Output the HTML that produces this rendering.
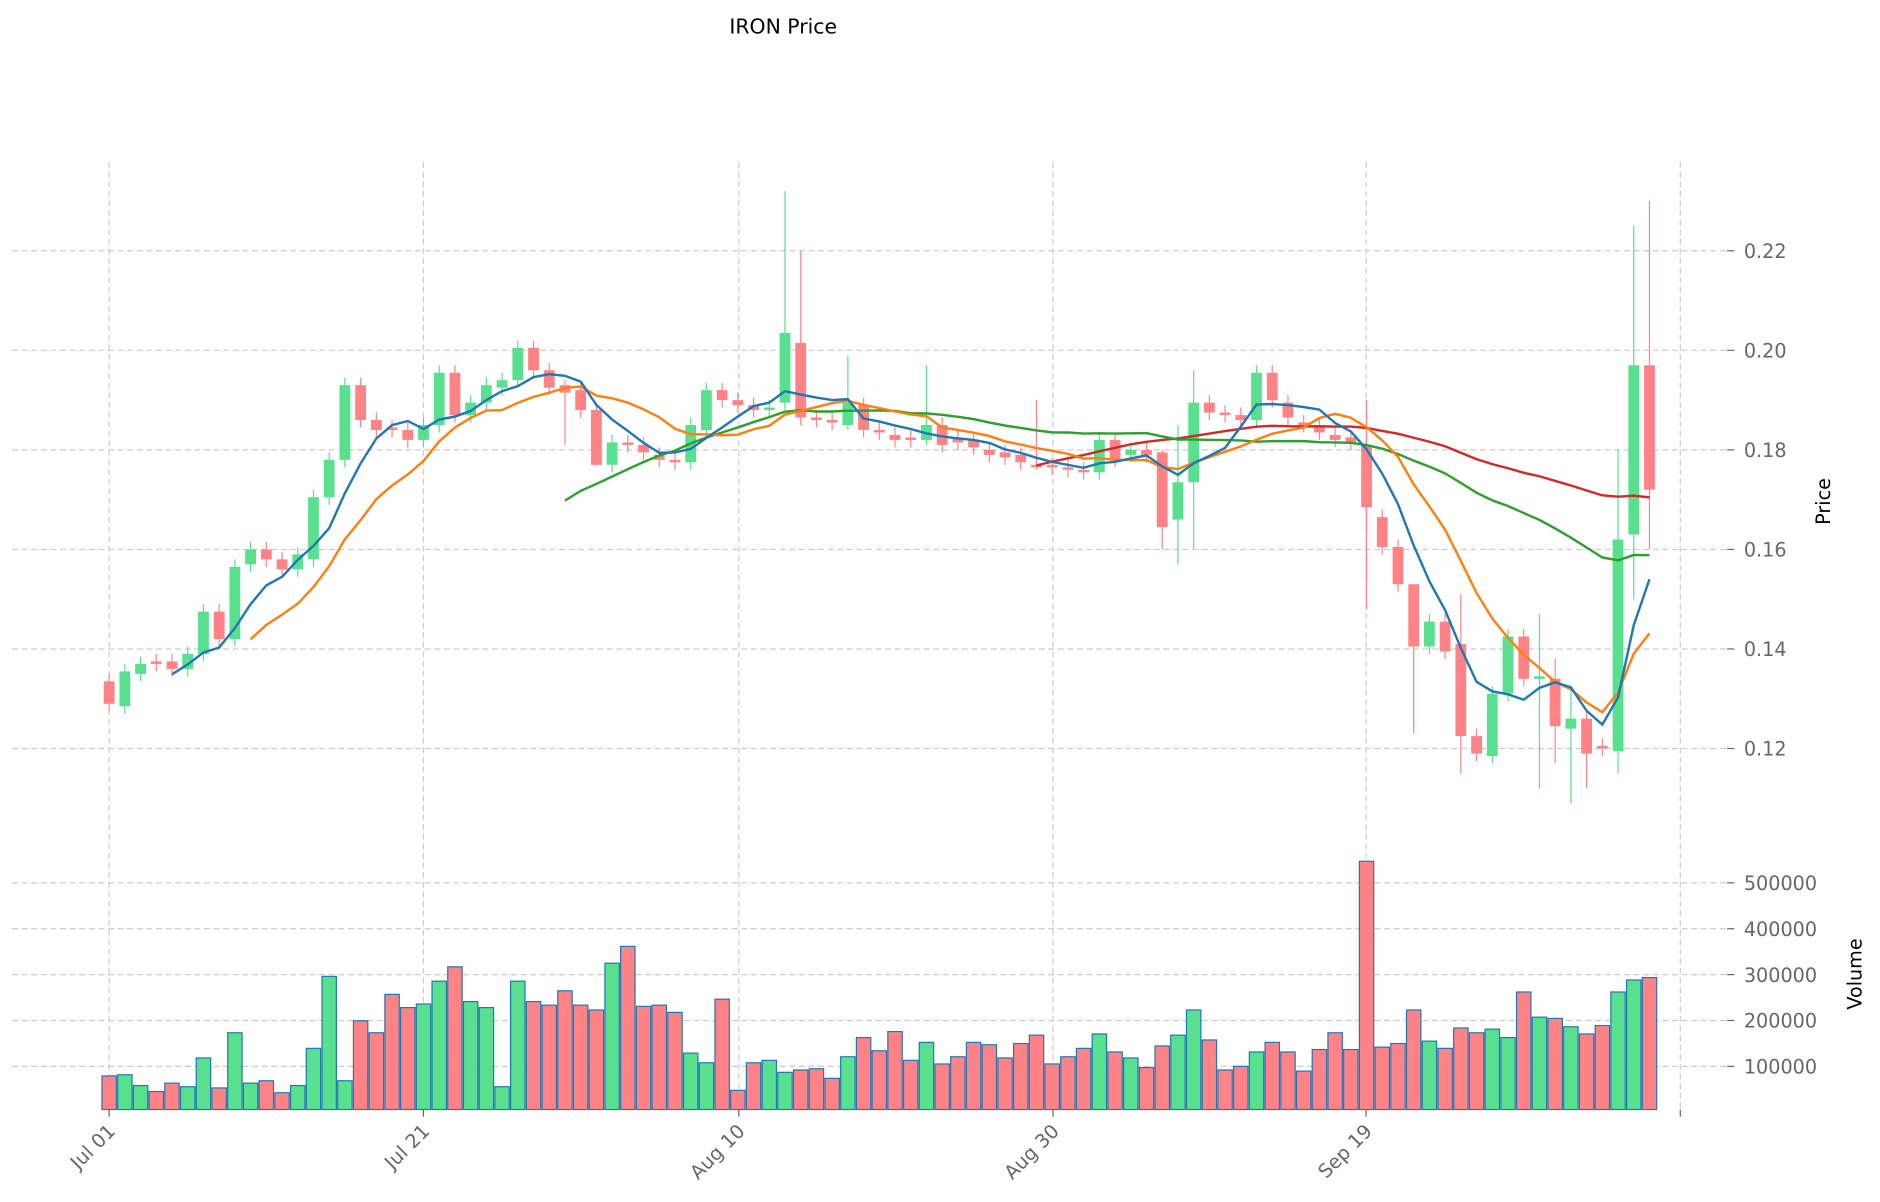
<!DOCTYPE html>
<html><head><meta charset="utf-8"><style>html,body{margin:0;padding:0;background:#fff}svg{display:block}</style></head>
<body>
<svg id="c" width="1880" height="1202" viewBox="0 0 1567.5 1002" xmlns="http://www.w3.org/2000/svg" font-family="DejaVu Sans, Liberation Sans, sans-serif"></svg>
<script>
const C=[[0.1335,0.129],[0.1285,0.1355],[0.135,0.137],[0.1375,0.137],[0.1375,0.136],[0.136,0.139],[0.139,0.1475],[0.1475,0.142],[0.142,0.1565],[0.157,0.160],
[0.160,0.158],[0.158,0.156],[0.156,0.159],[0.158,0.1705],[0.1705,0.178],[0.178,0.193],[0.193,0.186],[0.186,0.184],[0.1845,0.184],[0.184,0.182],
[0.182,0.185],[0.185,0.1955],[0.1955,0.187],[0.187,0.1895],[0.1895,0.193],[0.1925,0.194],[0.194,0.2005],[0.2005,0.196],[0.196,0.1925],[0.193,0.1915],
[0.192,0.188],[0.188,0.177],[0.177,0.1815],[0.1815,0.181],[0.181,0.1795],[0.179,0.178],[0.178,0.1775],[0.1775,0.185],[0.184,0.192],[0.192,0.19],
[0.19,0.189],[0.189,0.188],[0.188,0.1885],[0.1895,0.2035],[0.2015,0.1865],[0.1865,0.186],[0.186,0.1855],[0.185,0.1895],[0.189,0.184],[0.184,0.1835],
[0.183,0.182],[0.1825,0.182],[0.182,0.185],[0.185,0.181],[0.1825,0.1815],[0.182,0.1805],[0.18,0.179],[0.1795,0.1785],[0.179,0.1775],[0.177,0.1765],
[0.177,0.1765],[0.1765,0.176],[0.176,0.1755],[0.1755,0.182],[0.182,0.178],[0.179,0.18],[0.18,0.179],[0.1795,0.1645],[0.166,0.1735],[0.1735,0.1895],
[0.1895,0.1875],[0.1875,0.187],[0.187,0.186],[0.186,0.1955],[0.1955,0.19],[0.1895,0.1865],[0.1855,0.185],[0.185,0.1835],[0.183,0.182],[0.1825,0.1815],
[0.181,0.1685],[0.1665,0.1605],[0.1605,0.153],[0.153,0.1405],[0.1405,0.1455],[0.1455,0.1395],[0.141,0.1225],[0.1225,0.119],[0.1185,0.131],[0.131,0.1425],
[0.1425,0.134],[0.134,0.1345],[0.134,0.1245],[0.124,0.126],[0.126,0.119],[0.1205,0.12],[0.1195,0.162],[0.163,0.197],[0.197,0.172]];
const HL={43:[0.232,0.188],44:[0.22,0.185],96:[0.18,0.115],97:[0.225,0.15],98:[0.23,0.16],80:[0.19,0.148],83:[0.153,0.123],86:[0.151,0.115],91:[0.147,0.112],93:[0.132,0.109],94:[0.128,0.112],92:[0.138,0.117],69:[0.196,0.16],68:[0.185,0.157],67:[0.18,0.16],59:[0.19,0.176],52:[0.197,0.181],47:[0.199,0.184],31:[0.189,0.177],29:[0.194,0.181]};
const V=[897,896,905,910,903,906,882,907,861,903,901,911,905,874,814,901,851,861,829,840,837,818,806,835,840,906,818,835,838,826,838,842,803,789,839,838,844,878,886,833,909,886,884,894,892,891,899,881,865,876,860,884,869,887,881,869,871,882,870,863,887,881,874,862,877,882,890,872,863,842,867,892,889,877,869,877,893,875,861,875,718,873,870,842,868,874,857,861,858,865,827,848,849,856,862,855,827,817,815];
const X=i=>91+13.105*i, Y=p=>209+(0.22-p)*4150;
const G='#58e08e',R='#ff8286';
let s='';
s+='<text x="653" y="28" font-size="17" text-anchor="middle" fill="#000">IRON Price</text>';
const dash='stroke="#ccc" stroke-width="1" stroke-dasharray="5,3"';
[91,353,616,878,1139,1401].forEach(x=>{s+=`<line x1="${x}" y1="135" x2="${x}" y2="925" ${dash}/>`});
[0.22,0.20,0.18,0.16,0.14,0.12].forEach(p=>{const y=Y(p);s+=`<line x1="10" y1="${y}" x2="1440" y2="${y}" ${dash}/><line x1="1440" y1="${y}" x2="1446" y2="${y}" stroke="#666"/><text x="1454" y="${y+6}" font-size="16" fill="#666">${p.toFixed(2)}</text>`});
const vy=v=>927.25-v*38.25/100000;
[500000,400000,300000,200000,100000].forEach(v=>{const y=vy(v);s+=`<line x1="10" y1="${y}" x2="1440" y2="${y}" ${dash}/><line x1="1440" y1="${y}" x2="1446" y2="${y}" stroke="#666"/><text x="1454" y="${y+6}" font-size="16" fill="#666">${v}</text>`});
s+='<text transform="translate(1526,418) rotate(-90)" font-size="16" text-anchor="middle">Price</text>';
s+='<text transform="translate(1552,812) rotate(-90)" font-size="16" text-anchor="middle">Volume</text>';
[["Jul 01",91],["Jul 21",353],["Aug 10",616],["Aug 30",878],["Sep 19",1139]].forEach(([t,x])=>{s+=`<line x1="${x}" y1="925" x2="${x}" y2="931" stroke="#666"/><text transform="translate(${x+6},944) rotate(-45)" font-size="16" fill="#666" text-anchor="end">${t}</text>`});
s+='<line x1="1401" y1="925" x2="1401" y2="931" stroke="#666"/>';
C.forEach((c,i)=>{const x=X(i),col=c[1]>=c[0]?G:R;s+=`<rect x="${x-6}" y="${V[i]}" width="12" height="${925-V[i]}" fill="${col}" stroke="#1f77b4" stroke-width="1"/>`});
C.forEach((c,i)=>{const x=X(i),o=c[0],cl=c[1],col=cl>=o?G:R;let hi=Math.max(o,cl)+0.0015,lo=Math.min(o,cl)-0.0015;if(HL[i]){hi=HL[i][0];lo=HL[i][1];}
s+=`<line x1="${x}" y1="${Y(hi)}" x2="${x}" y2="${Y(lo)}" stroke="${col}" stroke-width="1"/>`;
const t=Y(Math.max(o,cl)),b=Y(Math.min(o,cl));s+=`<rect x="${x-4.5}" y="${t}" width="9" height="${Math.max(b-t,1.5)}" fill="${col}"/>`});
function ma(n,col){let pts=[];for(let i=n-1;i<C.length;i++){let a=0;for(let j=i-n+1;j<=i;j++)a+=C[j][1];pts.push(X(i).toFixed(1)+','+Y(a/n).toFixed(1));}
s+=`<polyline points="${pts.join(' ')}" fill="none" stroke="${col}" stroke-width="2"/>`;}
ma(60,'#d62728');ma(30,'#2ca02c');ma(10,'#ff7f0e');ma(5,'#1f77b4');
document.getElementById('c').innerHTML=s;
</script>
</body></html>
